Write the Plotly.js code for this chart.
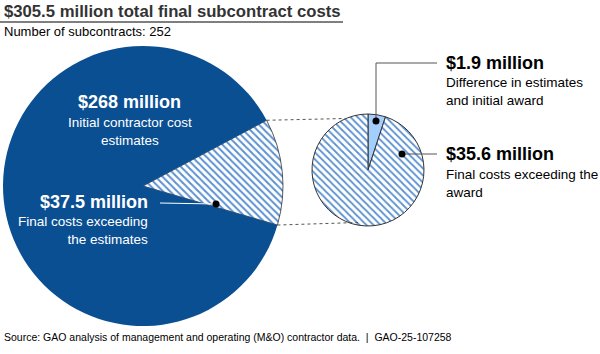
<!DOCTYPE html>
<html>
<head>
<meta charset="utf-8">
<script src="https://cdn.plot.ly/plotly-3.0.1.min.js"></script>
<style>
html,body{margin:0;padding:0;background:#fff;}
#chart{width:600px;height:354px;}
</style>
</head>
<body>
<div id="chart"></div>
<script>
// ---- data ----
const titleText = "$305.5 million total final subcontract costs";
const subtitleText = "Number of subcontracts: 252";
const sourceText = "Source: GAO analysis of management and operating (M&O) contractor data.  |  GAO-25-107258";

const bigLabels = ["Final costs exceeding the estimates", "Initial contractor cost estimates"];
const bigValues = [37.5, 268];
const bigAmounts = ["$37.5 million", "$268 million"];

const smallLabels = ["Difference in estimates and initial award", "Final costs exceeding the award"];
const smallValues = [1.9, 35.6];
const smallAmounts = ["$1.9 million", "$35.6 million"];

// ---- layout helpers (pixels -> paper) ----
const W = 600, H = 354;
const px = x => x / W;
const py = y => 1 - y / H;

const FONT = "Arial, 'Liberation Sans', sans-serif";
const DARK = "#0b4f93";
const LIGHT = "#a3cfff";
const HATCH = "#5a90d0";

const big = {cx: 143, cy: 186, r: 140, rotation: 62};
const small = {cx: 368, cy: 170, r: 56, rotation: 0};

function dom(p) {
  return {x: [px(p.cx - p.r), px(p.cx + p.r)], y: [py(p.cy + p.r), py(p.cy - p.r)]};
}

const bigTotal = bigValues.reduce((a, b) => a + b, 0);
const th1 = (90 - big.rotation) * Math.PI / 180;
const th2 = th1 - 2 * Math.PI * bigValues[0] / bigTotal;
const pTop = [big.cx + big.r * Math.cos(th1), big.cy - big.r * Math.sin(th1)];
const pBot = [big.cx + big.r * Math.cos(th2), big.cy - big.r * Math.sin(th2)];

const traces = [
  {
    type: "pie", labels: bigLabels, values: bigValues, sort: false,
    direction: "clockwise", rotation: big.rotation, domain: dom(big),
    textinfo: "none", hoverinfo: "none",
    marker: {
      colors: ["#ffffff", DARK],
      line: {color: ["#333333", DARK], width: [0.8, 0]},
      pattern: {shape: ["\\", ""], fgcolor: HATCH, bgcolor: "#ffffff", size: 5, solidity: 0.4}
    }
  },
  {
    type: "pie", labels: smallLabels, values: smallValues, sort: false,
    direction: "clockwise", rotation: small.rotation, domain: dom(small),
    textinfo: "none", hoverinfo: "none",
    marker: {
      colors: [LIGHT, "#ffffff"],
      line: {color: "#333333", width: 1},
      pattern: {shape: ["", "\\"], fgcolor: HATCH, bgcolor: "#ffffff", size: 5, solidity: 0.35}
    }
  }
];

function line(x0, y0, x1, y1, color, width, dash) {
  return {type: "line", xref: "paper", yref: "paper", x0: px(x0), y0: py(y0), x1: px(x1), y1: py(y1),
          line: {color: color, width: width, dash: dash || "solid"}};
}
function dot(x, y, r) {
  return {type: "circle", xref: "paper", yref: "paper", x0: px(x - r), x1: px(x + r), y0: py(y + r), y1: py(y - r),
          fillcolor: "#000", line: {width: 0}};
}

const shapes = [
  line(0, 22, 343, 22, "#555555", 1.5),
  line(pTop[0], pTop[1], 345, 118.5, "#555555", 1, "3px,3px"),
  line(pBot[0], pBot[1], 358, 222.5, "#555555", 1, "3px,3px"),
  line(160, 203, 216, 204, "#ffffff", 1),
  dot(216, 204, 3.5),
  line(376, 121, 376, 63, "#555555", 1),
  line(376, 63, 437, 63, "#555555", 1),
  dot(376, 121, 3.5),
  line(402, 154, 437, 154, "#555555", 1),
  dot(402, 154, 3.5)
];

function ann(text, x, y, opts) {
  return Object.assign({xref: "paper", yref: "paper", x: px(x), y: py(y), text: text, showarrow: false,
    xanchor: "left", yanchor: "middle", align: "left", borderpad: 0,
    font: {family: FONT, size: 13.5, color: "#000"}}, opts || {});
}

const annotations = [
  ann("<b>" + titleText + "</b>", 3, 11.5, {font: {family: FONT, size: 16.7, color: "#333"}}),
  ann(subtitleText, 3, 31.5, {font: {family: FONT, size: 13, color: "#000"}}),
  ann("<b>" + bigAmounts[1] + "</b>", 129.5, 102, {xanchor: "center", align: "center", font: {family: FONT, size: 18, color: "#fff"}}),
  ann("Initial contractor cost<br>estimates", 129.5, 131.5, {xanchor: "center", align: "center", font: {family: FONT, size: 13.5, color: "#fff"}}),
  ann("<b>" + bigAmounts[0] + "</b>", 148.5, 202, {xanchor: "right", align: "right", font: {family: FONT, size: 18, color: "#fff"}}),
  ann("Final costs exceeding<br>the estimates", 148.5, 230.5, {xanchor: "right", align: "right", font: {family: FONT, size: 13.5, color: "#fff"}}),
  ann("<b>" + smallAmounts[0] + "</b>", 445, 62.7, {font: {family: FONT, size: 18, color: "#000"}}),
  ann("Difference in estimates<br>and initial award", 445, 91.3, {}),
  ann("<b>" + smallAmounts[1] + "</b>", 445, 154.3, {font: {family: FONT, size: 18, color: "#000"}}),
  ann("Final costs exceeding the<br>award", 445, 183.3, {}),
  ann(sourceText, 3, 337, {font: {family: FONT, size: 10.5, color: "#000"}})
];

const layout = {
  width: W, height: H,
  margin: {l: 0, r: 0, t: 0, b: 0},
  paper_bgcolor: "#fff", plot_bgcolor: "#fff",
  showlegend: false,
  font: {family: FONT},
  shapes: shapes,
  annotations: annotations
};

Plotly.newPlot("chart", traces, layout, {displayModeBar: false, staticPlot: true});
</script>
</body>
</html>
